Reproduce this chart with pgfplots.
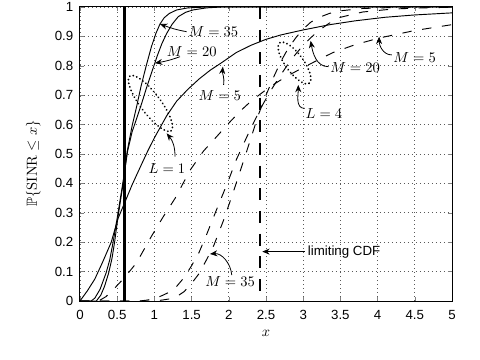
\documentclass[border=0pt]{standalone}
\usepackage[no-math]{fontspec}
\setmainfont{Liberation Sans}
\usepackage{amssymb}
\usepackage{pgfplots}
\pgfplotsset{compat=1.18}
\usetikzlibrary{arrows.meta,shapes.geometric}
\newcommand\af{\fontsize{10.5}{12}\selectfont}
\begin{document}
\begin{tikzpicture}
\useasboundingbox (-60bp,-44.25bp) rectangle (300bp,225.75bp);
\begin{axis}[
  at={(0,0)}, anchor=south west,
  scale only axis, width=279bp, height=220.5bp,
  xmin=0, xmax=5, ymin=0, ymax=1,
  xtick={0,0.5,1,1.5,2,2.5,3,3.5,4,4.5,5},
  ytick={0,0.1,0.2,0.3,0.4,0.5,0.6,0.7,0.8,0.9,1},
  /pgf/number format/assume math mode=true,
  tick label style={font=\fontsize{10}{12}\selectfont},
  xticklabel style={yshift=-3.6bp},
  yticklabel style={xshift=-1.5bp},
  tick align=inside, major tick length=3bp,
  axis line style={line width=0.75bp},
  grid=major,
  major grid style={black!65, line width=0.5bp, dash pattern=on 0.6bp off 2.4bp},
  xlabel={$x$},
  ylabel={$\mathbb{P}\{\mathrm{SINR}\le x\}$},
  label style={font=\fontsize{11}{13}\selectfont},
  xlabel style={at={(axis description cs:0.5,-0.109)}, anchor=center},
  ylabel style={at={(axis description cs:-0.1255,0.468)}, anchor=center},
  every axis plot/.append style={black, line width=0.7bp, mark=none},
]
% L = 1, solid
\addplot[solid] coordinates {(0,0)(0.1,0.035)(0.2,0.075)(0.3,0.13)(0.42,0.2)(0.51,0.28)(0.61,0.34)(0.7,0.395)(0.8,0.45)(0.91,0.51)(1.0,0.555)(1.165,0.63)(1.3,0.68)(1.45,0.72)(1.6,0.755)(1.75,0.785)(1.9,0.81)(2.1,0.845)(2.3,0.87)(2.5,0.89)(2.7,0.905)(3.0,0.922)(3.36,0.94)(3.7,0.953)(4.1,0.965)(4.5,0.973)(5,0.98)};
\addplot[solid] coordinates {(0,0)(0.15,0)(0.2,0.01)(0.27,0.04)(0.35,0.095)(0.4,0.14)(0.445,0.2)(0.505,0.29)(0.575,0.4)(0.64,0.51)(0.7,0.575)(0.76,0.62)(0.82,0.665)(0.9,0.73)(0.98,0.79)(1.04,0.835)(1.1,0.875)(1.165,0.91)(1.24,0.942)(1.32,0.967)(1.42,0.982)(1.52,0.99)(1.7,0.997)(1.9,1)(5,1)};
\addplot[solid] coordinates {(0,0)(0.22,0)(0.28,0.02)(0.33,0.05)(0.385,0.095)(0.43,0.145)(0.465,0.2)(0.51,0.285)(0.58,0.4)(0.635,0.51)(0.7,0.595)(0.76,0.66)(0.82,0.73)(0.89,0.8)(0.96,0.865)(1.02,0.91)(1.075,0.942)(1.13,0.963)(1.2,0.978)(1.3,0.99)(1.45,0.997)(1.7,1)(5,1)};
% L = 4, dashed
\addplot[dash pattern=on 7bp off 8bp] coordinates {(0,0)(0.25,0)(0.35,0.015)(0.47,0.045)(0.6,0.08)(0.76,0.13)(0.96,0.22)(1.12,0.287)(1.28,0.35)(1.48,0.445)(1.66,0.51)(1.84,0.56)(2.0,0.605)(2.15,0.645)(2.3,0.68)(2.43,0.705)(2.55,0.728)(2.7,0.752)(2.85,0.774)(3.0,0.794)(3.2,0.82)(3.4,0.845)(3.7,0.872)(4.03,0.895)(4.5,0.92)(5,0.94)};
\addplot[dash pattern=on 7bp off 8bp] coordinates {(0,0)(0.8,0)(0.9,0.003)(1.0,0.008)(1.1,0.018)(1.2,0.03)(1.3,0.05)(1.4,0.08)(1.5,0.12)(1.6,0.165)(1.7,0.225)(1.85,0.32)(1.98,0.40)(2.1,0.48)(2.24,0.557)(2.35,0.615)(2.45,0.665)(2.55,0.71)(2.7,0.77)(2.85,0.825)(3.0,0.87)(3.1,0.895)(3.2,0.918)(3.35,0.945)(3.5,0.965)(3.8,0.983)(4.2,0.993)(4.6,0.997)(5,0.999)};
\addplot[dash pattern=on 7bp off 8bp] coordinates {(0,0)(1.0,0)(1.1,0.003)(1.2,0.007)(1.3,0.015)(1.4,0.032)(1.5,0.06)(1.6,0.093)(1.7,0.14)(1.8,0.19)(1.93,0.275)(2.06,0.37)(2.17,0.455)(2.28,0.54)(2.4,0.635)(2.5,0.70)(2.6,0.76)(2.7,0.815)(2.8,0.86)(2.9,0.895)(3.0,0.925)(3.1,0.948)(3.2,0.963)(3.35,0.978)(3.5,0.987)(3.8,0.995)(4.3,0.999)(5,1)};
% limiting CDFs
\addplot[line width=1.8bp] coordinates {(0.6,0)(0.6,1)};
\addplot[line width=1.8bp, dash pattern=on 9bp off 8bp] coordinates {(2.42,1)(2.42,0)};
% annotations
\tikzset{arr/.style={line width=0.6bp, -{Stealth[length=5.5bp,width=4.5bp]}},
         ell/.style={draw, ellipse, inner sep=0pt, line width=1.5bp, line cap=round, dash pattern=on 0.01bp off 2.8bp}}
\node[ell, minimum width=51.4bp, minimum height=15bp, rotate=-53] at (axis cs:0.947,0.672) {};
\node[ell, minimum width=37.5bp, minimum height=13.5bp, rotate=-54] at (axis cs:2.883,0.8095) {};
\node[anchor=west, inner sep=0pt, font=\af] at (axis cs:1.456,0.918) {$M=35$};
\draw[arr] (axis cs:1.433,0.916) to[out=170,in=-20] (axis cs:1.075,0.942);
\node[anchor=west, inner sep=0pt, font=\af] at (axis cs:1.165,0.848) {$M=20$};
\draw[arr] (axis cs:1.344,0.831) to[out=200,in=10] (axis cs:1.008,0.809);
\node[anchor=west, inner sep=0pt, font=\af] at (axis cs:1.59,0.70) {$M=5$};
\draw[arr] (axis cs:1.93,0.735) to[out=80,in=-95] (axis cs:1.92,0.797);
\node[anchor=west, inner sep=0pt, font=\af] at (axis cs:0.92,0.451) {$L=1$};
\draw[arr] (axis cs:1.277,0.491) to[out=90,in=-50] (axis cs:1.165,0.570);
\node[anchor=west, inner sep=0pt, font=\af] at (axis cs:3.03,0.638) {$L=4$};
\draw[arr] (axis cs:3.02,0.655) to[out=180,in=-90] (axis cs:2.934,0.735);
\node[anchor=west, inner sep=0pt, font=\af] at (axis cs:3.36,0.795) {$M=20$};
\draw[arr] (axis cs:3.34,0.797) to[out=180,in=-80] (axis cs:3.10,0.885);
\node[anchor=west, inner sep=0pt, font=\af] at (axis cs:4.21,0.829) {$M=5$};
\draw[arr] (axis cs:4.19,0.837) to[out=180,in=-90] (axis cs:4.02,0.899);
\node[anchor=west, inner sep=0pt, font=\af] at (axis cs:1.68,0.066) {$M=35$};
\draw[arr] (axis cs:2.04,0.088) to[out=95,in=5] (axis cs:1.747,0.16);
\node[anchor=west, inner sep=0pt, font=\fontsize{10}{12}\selectfont] at (axis cs:3.06,0.168) {limiting CDF};
\draw[arr] (axis cs:3.02,0.168) -- (axis cs:2.45,0.168);
\end{axis}
\end{tikzpicture}
\end{document}
